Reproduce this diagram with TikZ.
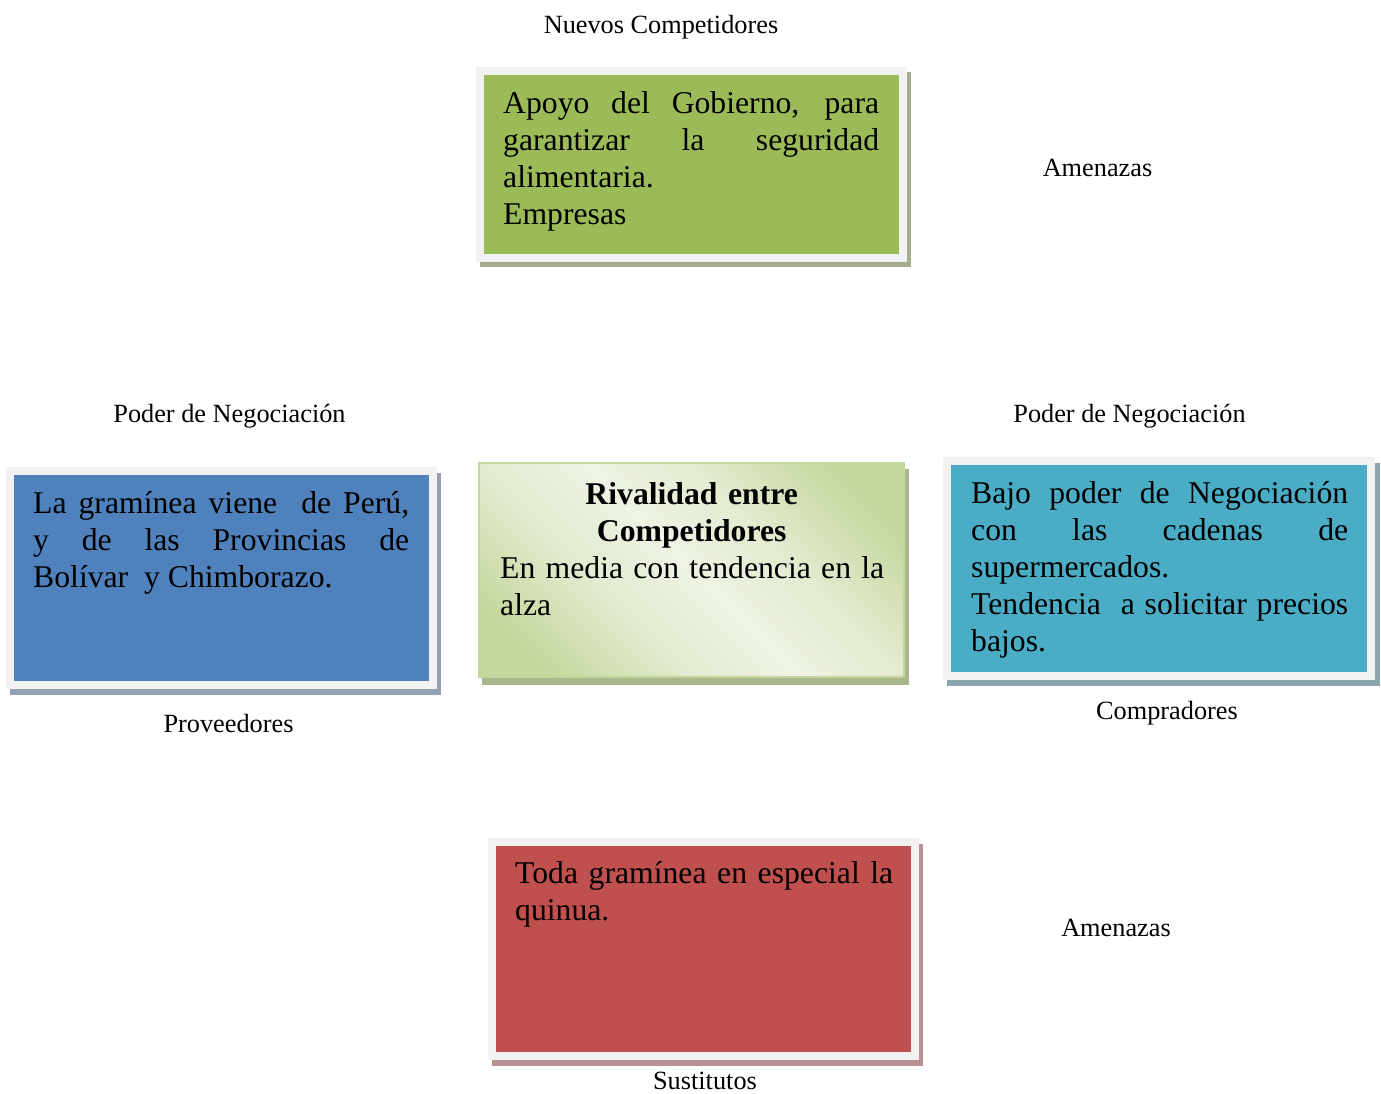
\documentclass[tikz,border=0pt]{standalone}
\usepackage{fontspec}
\setmainfont{Liberation Serif}
\definecolor{framegray}{HTML}{F2F2F2}
\definecolor{boxgreen}{HTML}{9BBB59}
\definecolor{greenshadow}{HTML}{A5AD8F}
\definecolor{boxblue}{HTML}{4F81BD}
\definecolor{blueshadow}{HTML}{95A2B3}
\definecolor{boxteal}{HTML}{4BACC6}
\definecolor{tealshadow}{HTML}{8DA6AE}
\definecolor{boxred}{HTML}{C0504D}
\definecolor{redshadow}{HTML}{BA9192}
\definecolor{lightgreen}{HTML}{C3D69B}
\definecolor{palegreen}{HTML}{EEF3E3}
\definecolor{midgreen}{HTML}{E3EBD0}
\definecolor{centershadow}{HTML}{A8B88C}
\pgfdeclareverticalshading{rivalshade}{100bp}{color(0bp)=(lightgreen); color(22bp)=(lightgreen); color(38bp)=(midgreen); color(50bp)=(palegreen); color(62bp)=(midgreen); color(78bp)=(lightgreen); color(100bp)=(lightgreen)}
\begin{document}
\begin{tikzpicture}[x=1pt,y=-1pt,
  panel/.style={draw=framegray, line width=8pt, anchor=north west, inner sep=0pt, outer sep=0pt},
  boxtext/.style={anchor=base west, inner sep=0pt, align=justify, font=\fontsize{31.7}{37}\selectfont},
  lbl/.style={anchor=base, inner sep=0pt, font=\fontsize{26.3}{30}\selectfont}]
\useasboundingbox (0,0) rectangle (1381,1093);

% shadows
\fill[greenshadow] (480,72) rectangle (911,267);
\fill[blueshadow] (10,473) rectangle (441,695);
\fill[centershadow] (482,469) rectangle (909,685);
\fill[tealshadow] (947,463) rectangle (1380,686);
\fill[redshadow] (492,844) rectangle (923,1066);

% boxes
\node[panel, fill=boxgreen, minimum width=423pt, minimum height=187pt] (green) at (480,71) {};
\node[panel, fill=boxblue, minimum width=423pt, minimum height=214pt] (blue) at (10,471) {};
\node[anchor=north west, inner sep=0pt, outer sep=0pt, draw=lightgreen, line width=2pt,
      shading=rivalshade, shading angle=-45, minimum width=425pt, minimum height=214pt] (center) at (479,463) {};
\node[panel, fill=boxteal, minimum width=424pt, minimum height=215pt] (teal) at (947,461) {};
\node[panel, fill=boxred, minimum width=423pt, minimum height=214pt] (red) at (492,842) {};

% box texts
\node[boxtext, text width=376pt] (tgreen) at (503,113)
  {Apoyo del Gobierno, para\linebreak garantizar la seguridad\linebreak alimentaria.\\Empresas};
\node[boxtext, text width=376pt] (tblue) at (33,513)
  {La gramínea viene~ de Perú,\linebreak y de las Provincias de\linebreak Bolívar~ y Chimborazo.};
\node[boxtext, text width=383pt, align=center, font=\fontsize{31.7}{37}\selectfont\bfseries] (ttitle) at (500,504)
  {Rivalidad entre\\Competidores};
\node[boxtext, text width=384pt] (tcenter) at (500,578)
  {En media con tendencia en la\linebreak alza};
\node[boxtext, text width=377pt] (tteal) at (971,503)
  {Bajo poder de Negociación\linebreak con las cadenas de\linebreak supermercados.\\Tendencia~ a solicitar precios\linebreak bajos.};
\node[boxtext, text width=378pt] (tred) at (515,883)
  {Toda gramínea en especial la\linebreak quinua.};

% labels
\node[lbl] (nuevos) at (661,33) {Nuevos Competidores};
\node[lbl] (amen1) at (1097.5,176) {Amenazas};
\node[lbl] (poder1) at (229.5,422) {Poder de Negociación};
\node[lbl] (poder2) at (1129.5,422) {Poder de Negociación};
\node[lbl] (prov) at (228.5,732) {Proveedores};
\node[lbl] (comp) at (1167,719) {Compradores};
\node[lbl] (amen2) at (1116,936) {Amenazas};
\node[lbl] (sust) at (705,1089) {Sustitutos};
\end{tikzpicture}
\end{document}
